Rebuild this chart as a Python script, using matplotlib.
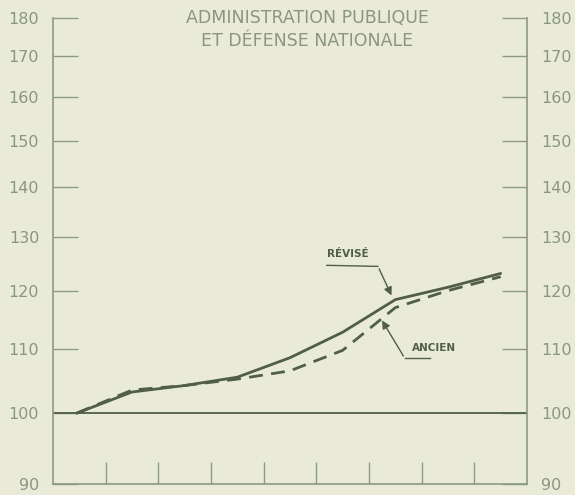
import numpy as np
import matplotlib.pyplot as plt
from matplotlib.ticker import NullLocator

# indices (annees) - points au milieu de chaque intervalle
annees = [0.45, 1.5, 2.5, 3.5, 4.5, 5.5, 6.5, 7.5, 8.5]
revise = [100.0, 103.2, 104.2, 105.5, 108.6, 112.8, 118.4, 120.6, 123.1]
ancien = [100.0, 103.5, 104.2, 105.2, 106.5, 109.8, 117.0, 120.0, 122.5]

yticks = [90, 100, 110, 120, 130, 140, 150, 160, 170, 180]
xticks = [1, 2, 3, 4, 5, 6, 7, 8]

bg = '#e9ebd8'
axe = '#8c9a86'
trait = '#4f5e45'
texte = '#8a9584'

fig = plt.figure(figsize=(5.75, 4.95), dpi=100, facecolor=bg)
ax = fig.add_axes([0.0922, 0.0222, 0.8243, 0.9414], facecolor=bg)

ax.plot(annees, revise, color=trait, lw=2.0, solid_capstyle='round')
ax.plot(annees, ancien, color=trait, lw=2.0, ls=(0, (5, 3)))
ax.axhline(100, color=trait, lw=1.3)

ax.set_yscale('log')
ax.set_ylim(90, 180)
ax.set_xlim(0, 9)
ax.yaxis.set_minor_locator(NullLocator())
ax.set_yticks(yticks)
ax.set_yticklabels([str(v) for v in yticks])
ax.set_xticks(xticks)
ax.set_xticklabels([])

ax.spines['top'].set_visible(False)
for s in ['left', 'right', 'bottom']:
    ax.spines[s].set_color(axe)
    ax.spines[s].set_linewidth(1.2)

ax.tick_params(axis='y', which='both', direction='in', length=18, width=1.0,
               color=axe, labelcolor=texte, labelsize=11.5, pad=10,
               left=True, right=True, labelleft=True, labelright=True)
ax.tick_params(axis='x', direction='in', length=16, width=1.0, color=axe)

# titre
fig.text(0.534, 0.981, 'ADMINISTRATION PUBLIQUE\nET DÉFENSE NATIONALE',
         ha='center', va='top', color=texte, fontsize=12.5, linespacing=1.3)

# annotations
ax.text(5.2, 125.8, 'RÉVISÉ', color=trait, fontsize=7.5, fontweight='bold',
        ha='left', va='bottom')
ax.plot([5.2, 6.17], [124.6, 124.4], color=trait, lw=1.0)
ax.annotate('', xy=(6.45, 118.7), xytext=(6.17, 124.4),
            arrowprops=dict(arrowstyle='-|>', color=trait, lw=1.0, mutation_scale=12))

ax.text(6.81, 109.3, 'ANCIEN', color=trait, fontsize=7.5, fontweight='bold',
        ha='left', va='bottom')
ax.plot([6.68, 7.15], [108.5, 108.5], color=trait, lw=1.0)
ax.annotate('', xy=(6.22, 115.2), xytext=(6.68, 108.5),
            arrowprops=dict(arrowstyle='-|>', color=trait, lw=1.0, mutation_scale=12))

fig.savefig('out.png', dpi=100, facecolor=bg)
